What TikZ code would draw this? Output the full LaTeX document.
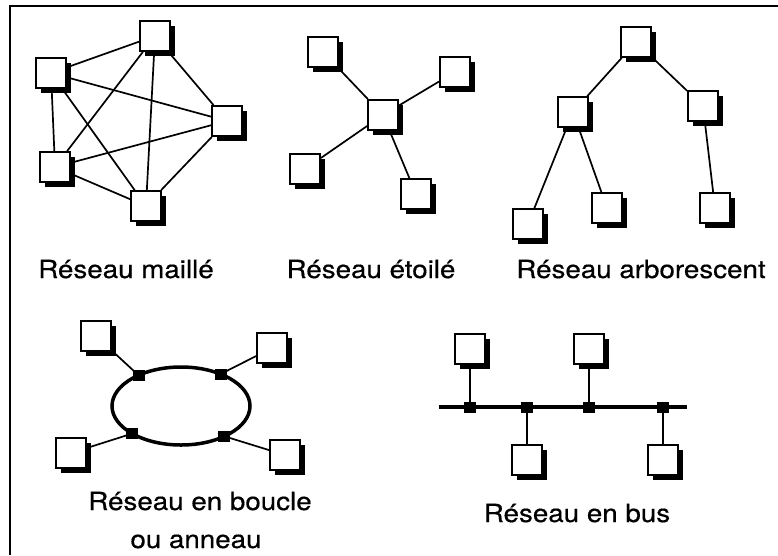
\documentclass[tikz,border=0pt]{standalone}
\usepackage{fontspec}
\newfontfamily\lblfont[FakeStretch=1.11,FakeBold=0.5]{TeX Gyre Heros}
\usetikzlibrary{shadows,backgrounds,calc}
\begin{document}
\begin{tikzpicture}[x=1pt,y=-1pt,
  pc/.style={draw, line width=1.8pt, fill=white, minimum size=30pt, inner sep=0pt,
     drop shadow={shadow xshift=4.5pt, shadow yshift=-4.5pt, fill=black, opacity=1}},
  link/.style={line width=1.7pt},
  tap/.style={fill=black, minimum width=12pt, minimum height=11pt, inner sep=0pt},
  lbl/.style={font=\lblfont\fontsize{25}{30}\selectfont, anchor=base, inner sep=0pt}]
\useasboundingbox (0,0) rectangle (778,555);
% frame
\coordinate (fTL) at (10,6);
\coordinate (fTR) at (778,6);
\coordinate (fBL) at (10,555);
\draw[line width=2.5pt] (fBL) -- (fTL) -- (fTR);

% mesh
\node[pc] (m1) at (155,36) {};
\node[pc] (m2) at (51,73) {};
\node[pc] (m3) at (227,121) {};
\node[pc] (m4) at (55,167) {};
\node[pc] (m5) at (146,206) {};
% star
\node[pc] (s0) at (383,115) {};
\node[pc] (s1) at (323,52) {};
\node[pc] (s2) at (455,72) {};
\node[pc] (s3) at (305,169) {};
\node[pc] (s4) at (416,194) {};
% tree
\node[pc] (a0) at (636,42) {};
\node[pc] (a1) at (573,112) {};
\node[pc] (a2) at (703,106) {};
\node[pc] (a3) at (528,224) {};
\node[pc] (a4) at (607,208) {};
\node[pc] (a5) at (715,208) {};
% ring
\coordinate (rc) at (181,406);
\node[pc] (r1) at (96,336) {};
\node[pc] (r2) at (272,348) {};
\node[pc] (r3) at (71,453) {};
\node[pc] (r4) at (285,455) {};
\node[tap] (rt1) at ($(rc)+(-128:69 and 39)$) {};
\node[tap] (rt2) at ($(rc)+(-55:69 and 39)$) {};
\node[tap] (rt3) at ($(rc)+(135:69 and 39)$) {};
\node[tap] (rt4) at ($(rc)+(51:69 and 39)$) {};
% bus
\coordinate (busL) at (439,407);
\coordinate (busR) at (687,407);
\node[pc] (b1) at (470,349) {};
\node[pc] (b2) at (589,349) {};
\node[pc] (b3) at (527,460) {};
\node[pc] (b4) at (663,460) {};
\node[tap] (bt1) at (470,407) {};
\node[tap] (bt2) at (527,407) {};
\node[tap] (bt3) at (589,407) {};
\node[tap] (bt4) at (663,407) {};

\begin{scope}[on background layer]
  \foreach \u/\v in {m1/m2,m1/m3,m1/m4,m1/m5,m2/m3,m2/m4,m2/m5,m3/m4,m3/m5,m4/m5}
    \draw[link] (\u) -- (\v);
  \foreach \v in {s1,s2,s3,s4}
    \draw[link] (s0) -- (\v);
  \draw[link] (a0) -- (a1);
  \draw[link] (a0) -- (a2);
  \draw[link] (a1) -- (a3);
  \draw[link] (a1) -- (a4);
  \draw[link] (a2) -- (a5);
  \draw[line width=3.5pt] (rc) ellipse [x radius=69, y radius=39];
  \draw[link] (r1) -- (rt1.center);
  \draw[link] (r2) -- (rt2.center);
  \draw[link] (r3) -- (rt3.center);
  \draw[link] (r4) -- (rt4.center);
  \draw[line width=3.5pt] (busL) -- (busR);
  \draw[link] (b1) -- (bt1.center);
  \draw[link] (b2) -- (bt3.center);
  \draw[link] (b3) -- (bt2.center);
  \draw[link] (b4) -- (bt4.center);
\end{scope}

% labels
\node[lbl] (l1) at (126,278) {Réseau maillé};
\node[lbl] (l2) at (371,278) {Réseau étoilé};
\node[lbl] (l3) at (641,278) {Réseau arborescent};
\node[lbl] (l4) at (200,510) {Réseau en boucle};
\node[lbl] (l5) at (196,548) {ou anneau};
\node[lbl] (l6) at (577,522) {Réseau en bus};
\end{tikzpicture}
\end{document}
